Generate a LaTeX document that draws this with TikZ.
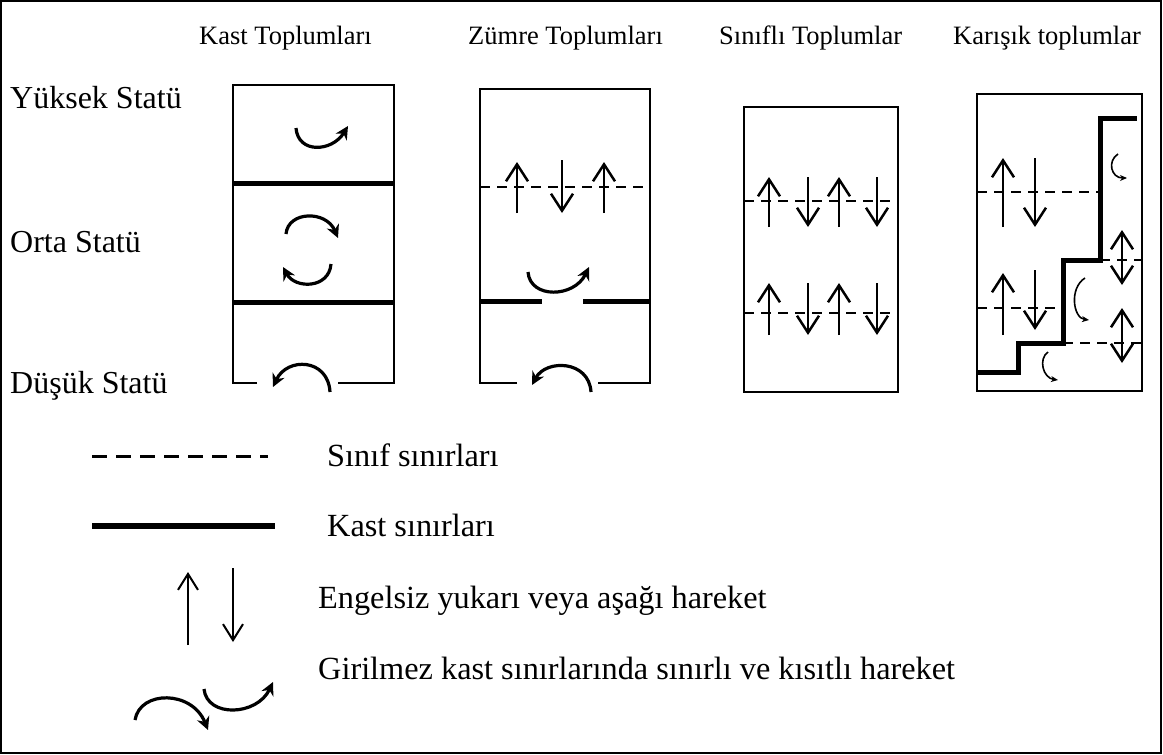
\documentclass[tikz,border=0pt]{standalone}
\usepackage{fontspec}
\setmainfont{Liberation Serif}
\usetikzlibrary{arrows.meta}
\tikzset{
  boxline/.style={line width=2.5pt},
  castline/.style={line width=5pt},
  classline/.style={line width=2.3pt, dash pattern=on 10pt off 7pt},
  legclass/.style={line width=3pt, dash pattern=on 15pt off 9pt},
  updown/.style={line width=2.5pt, -{Straight Barb[length=17pt,width=22pt]}},
  bothway/.style={line width=2.5pt, {Straight Barb[length=17pt,width=22pt]}-{Straight Barb[length=17pt,width=22pt]}},
  legarrow/.style={line width=2pt, -{Straight Barb[length=16pt,width=20pt]}},
  turn/.style={line width=3.2pt, -{Stealth[length=13pt,width=13pt]}},
  smallturn/.style={line width=1.6pt, -{Stealth[length=7pt,width=6pt]}},
  title/.style={anchor=base west, inner sep=0pt, font=\fontsize{26.5}{30}\selectfont},
  side/.style={anchor=base west, inner sep=0pt, font=\fontsize{32}{36}\selectfont},
  legend/.style={anchor=base west, inner sep=0pt, font=\fontsize{32.3}{36}\selectfont},
}
\begin{document}
\begin{tikzpicture}[x=1pt,y=-1pt]
\useasboundingbox (0,0) rectangle (1163,755);
\draw[line width=2pt] (1,1) rectangle (1161,753);

% titles
\node[title] (t1) at (199,44) {Kast Toplumları};
\node[title] (t2) at (468,44) {Zümre Toplumları};
\node[title] (t3) at (719,44) {Sınıflı Toplumlar};
\node[title] (t4) at (953,44) {Karışık toplumlar};

% side labels
\node[side] (s1) at (10,108) {Yüksek Statü};
\node[side] (s2) at (10,252) {Orta Statü};
\node[side] (s3) at (10,393) {Düşük Statü};

% ---- Box 1: Kast
\draw[boxline] (257,383) -- (233,383) -- (233,85) -- (394,85) -- (394,383) -- (338,383);
\draw[castline] (233,183) -- (394,183);
\draw[castline] (233,302) -- (394,302);
\draw[turn] (296,128) .. controls (298,154) and (332,152) .. (348,126);
\draw[turn] (286,234) .. controls (288,211) and (326,210) .. (338,238);
\draw[turn] (331,264) .. controls (329,289) and (295,289) .. (283,267);
\draw[turn] (330,392) .. controls (328,358) and (287,357) .. (273,387);

% ---- Box 2: Zumre
\draw[boxline] (517,383) -- (480,383) -- (480,89) -- (650,89) -- (650,383) -- (598,383);
\draw[classline] (480,187) -- (650,187);
\draw[castline] (480,301) -- (542,301);
\draw[castline] (583,301) -- (650,301);
\draw[updown] (517,213) -- (517,162);
\draw[updown] (562,160) -- (562,213);
\draw[updown] (604,213) -- (604,162);
\draw[turn] (528,272) .. controls (530,299) and (574,298) .. (589,267);
\draw[turn] (591,392) .. controls (589,360) and (546,359) .. (532,385);

% ---- Box 3: Siniflı
\draw[boxline] (744,107) rectangle (898,392);
\draw[classline] (744,201) -- (898,201);
\draw[classline] (744,313) -- (898,313);
\draw[updown] (769,227) -- (769,177);
\draw[updown] (808,177) -- (808,227);
\draw[updown] (839,227) -- (839,177);
\draw[updown] (877,177) -- (877,227);
\draw[updown] (769,335) -- (769,283);
\draw[updown] (808,283) -- (808,335);
\draw[updown] (839,335) -- (839,283);
\draw[updown] (877,283) -- (877,335);

% ---- Box 4: Karisik
\draw[boxline] (977,94) rectangle (1142,391);
\draw[castline] (977,372) -- (1018,372) -- (1018,343) -- (1063,343) -- (1063,260) -- (1100,260) -- (1100,118) -- (1137,118);
\draw[classline] (977,192) -- (1100,192);
\draw[classline] (977,308) -- (1063,308);
\draw[classline] (1100,260) -- (1142,260);
\draw[classline] (1063,343) -- (1142,343);
\draw[updown] (1003,227) -- (1003,158);
\draw[updown] (1035,158) -- (1035,227);
\draw[updown] (1003,335) -- (1003,273);
\draw[updown] (1035,270) -- (1035,330);
\draw[bothway] (1122,230) -- (1122,285);
\draw[bothway] (1122,308) -- (1122,363);
\draw[smallturn] (1118,154) .. controls (1107,161) and (1111,178) .. (1127,178);
\draw[smallturn] (1085,278) .. controls (1069,288) and (1073,318) .. (1089,320);
\draw[smallturn] (1048,352) .. controls (1038,359) and (1043,378) .. (1058,380);

% ---- Legend
\draw[legclass] (92,456) -- (268,456);
\node[legend] (l1) at (327,466) {Sınıf sınırları};
\draw[castline, line width=6pt] (92,526) -- (275,526);
\node[legend] (l2) at (327,536) {Kast sınırları};
\draw[legarrow] (188,645) -- (188,572);
\draw[legarrow] (233,568) -- (233,642);
\node[legend] (l3) at (318,608) {Engelsiz yukarı veya aşağı hareket};
\draw[turn] (135,720) .. controls (140,690) and (192,690) .. (208,730);
\draw[turn] (204,689) .. controls (207,718) and (257,716) .. (273,682);
\node[legend] (l4) at (318,679) {Girilmez kast sınırlarında sınırlı ve kısıtlı hareket};
\end{tikzpicture}
\end{document}
